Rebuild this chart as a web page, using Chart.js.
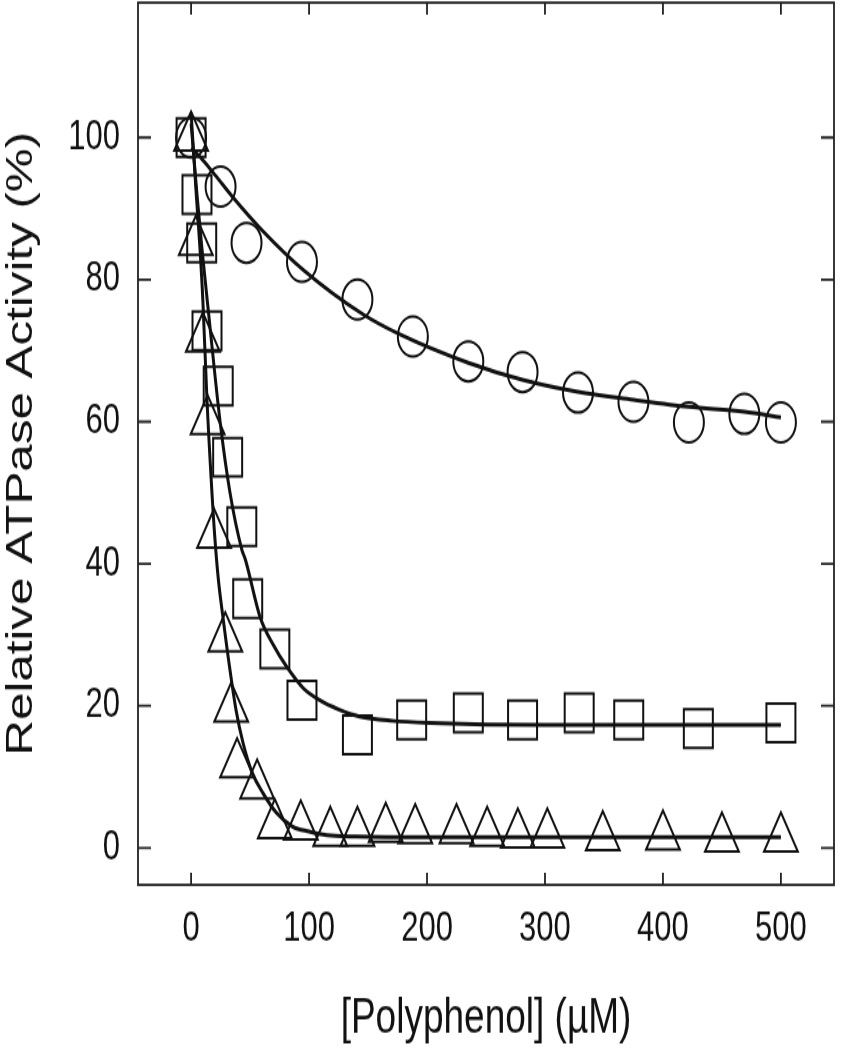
<!DOCTYPE html>
<html lang="en">
<head>
    <meta charset="UTF-8">
    <title>Relative ATPase Activity</title>
    <script src="https://cdn.jsdelivr.net/npm/chart.js"></script>
    <style>
        body {
            margin: 0;
            background: #fff;
        }
        .wrap {
            width: 841px;
            height: 1050px;
            overflow: hidden;
        }
        /* the original figure is stretched vertically, so draw flat and stretch */
        #chart {
            display: block;
            transform: scaleY(1.3325);
            transform-origin: 0 0;
        }
    </style>
</head>
<body>
    <div class="wrap">
        <canvas id="chart" width="841" height="788" style="width:841px;height:788px"></canvas>
    </div>

    <script>
        // Tick labels
        const xTicks = [0, 100, 200, 300, 400, 500];
        const yTicks = [0, 20, 40, 60, 80, 100];

        // Circles
        const circleX = [0, 25, 47, 94, 141, 188, 235, 281, 328, 375, 422, 469, 500];
        const circleY = [100, 93.1, 85.2, 82.5, 77.2, 72.0, 68.5, 67.0, 64.1, 62.8, 59.9, 61.1, 59.9];

        // Squares
        const squareX = [0, 5, 9, 13.5, 23, 31, 43, 48, 71, 94, 141, 187, 235, 281, 329, 371, 430, 500];
        const squareY = [100, 92.0, 85.2, 72.8, 65.0, 55.0, 45.2, 35.1, 28.0, 20.8, 15.9, 18.0, 19.0, 18.0, 19.0, 18.0, 16.8, 17.6];

        // Triangles
        const triX = [0, 4, 10, 14, 19.5, 29, 34, 39, 56, 71, 93, 118, 141, 165, 190, 225, 251, 277, 302, 349, 400, 450, 500];
        const triY = [100, 85.3, 71.7, 60.1, 44.1, 29.5, 19.6, 11.8, 8.8, 3.2, 3.0, 2.1, 2.1, 2.7, 2.5, 2.5, 2.1, 1.9, 1.9, 1.5, 1.6, 1.3, 1.3];

        // Fitted curves
        const circleFitX = [0, 8, 20, 36, 60, 95, 146, 177, 235, 281, 328, 375, 422, 469, 500];
        const circleFitY = [98.5, 97.2, 94.8, 91.5, 87.0, 81.4, 75.1, 72.3, 68.3, 65.9, 64.2, 63.1, 62.1, 61.4, 60.6];

        const squareFitX = [0, 5, 9.3, 15, 24.6, 33, 43, 46, 58.5, 70, 81, 95, 109, 125, 143, 170, 202, 300, 400, 500];
        const squareFitY = [102, 92, 84.2, 75, 60, 50, 42, 40.6, 32.5, 28.5, 25.5, 22.5, 20.8, 19.5, 18.5, 17.9, 17.6, 17.3, 17.3, 17.3];

        const triFitX = [0, 4, 7.6, 10, 13.5, 17, 20, 23, 27, 33, 38, 44, 52, 61, 72, 86, 100, 115, 140, 200, 300, 400, 500];
        const triFitY = [103.5, 93, 84.2, 77, 63, 52, 44, 38, 32.5, 25, 19.5, 14.8, 10.5, 7.7, 5.0, 3.0, 2.3, 1.8, 1.6, 1.5, 1.5, 1.5, 1.5];

        const pts = (xs, ys) => xs.map((x, i) => ({ x: x, y: ys[i] }));

        function markers(label, xs, ys, style, radius) {
            return {
                type: 'scatter',
                label: label,
                data: pts(xs, ys),
                pointStyle: style,
                pointRadius: radius,
                borderColor: '#111',
                backgroundColor: 'rgba(0,0,0,0)',
                pointBorderWidth: 2,
                borderWidth: 2
            };
        }

        function fit(label, xs, ys) {
            return {
                type: 'line',
                label: label,
                data: pts(xs, ys),
                borderColor: '#111',
                borderWidth: 3,
                pointRadius: 0,
                cubicInterpolationMode: 'monotone',
                fill: false
            };
        }

        // drop the label overhang padding so the plot box sits where the figure has it
        function noPad(s) {
            s.paddingTop = 0;
            s.paddingBottom = 0;
            s.paddingLeft = 0;
            s.paddingRight = 0;
        }

        // frame and inward ticks on all four sides
        const framePlugin = {
            id: 'frame',
            afterDraw(chart) {
                const { ctx, chartArea: a, scales } = chart;
                ctx.save();
                ctx.strokeStyle = '#222';
                ctx.lineWidth = 1.8;
                ctx.strokeRect(a.left, a.top, a.right - a.left, a.bottom - a.top);
                ctx.beginPath();
                xTicks.forEach(v => {
                    const px = scales.x.getPixelForValue(v);
                    ctx.moveTo(px, a.bottom);
                    ctx.lineTo(px, a.bottom - 9);
                    ctx.moveTo(px, a.top);
                    ctx.lineTo(px, a.top + 9);
                });
                yTicks.forEach(v => {
                    const py = scales.y.getPixelForValue(v);
                    ctx.moveTo(a.left, py);
                    ctx.lineTo(a.left + 13, py);
                    ctx.moveTo(a.right, py);
                    ctx.lineTo(a.right - 13, py);
                });
                ctx.stroke();
                ctx.restore();
            }
        };

        const tickFont = { family: 'Liberation Sans, Arial, sans-serif', size: 31 };
        const titleFont = { family: 'Liberation Sans, Arial, sans-serif', size: 37 };

        new Chart(document.getElementById('chart'), {
            data: {
                datasets: [
                    fit('circle fit', circleFitX, circleFitY),
                    fit('square fit', squareFitX, squareFitY),
                    fit('triangle fit', triFitX, triFitY),
                    markers('circles', circleX, circleY, 'circle', 15),
                    markers('squares', squareX, squareY, 'rect', 20.5),
                    markers('triangles', triX, triY, 'triangle', 19.5)
                ]
            },
            options: {
                responsive: false,
                devicePixelRatio: 1,
                animation: false,
                layout: { autoPadding: false, padding: { top: 2, right: 7, left: 0, bottom: 0 } },
                plugins: {
                    legend: { display: false },
                    tooltip: { enabled: false }
                },
                scales: {
                    x: {
                        type: 'linear',
                        min: -45,
                        max: 545,
                        grid: { display: false, drawTicks: false },
                        border: { display: false },
                        afterBuildTicks: s => { s.ticks = xTicks.map(v => ({ value: v })); },
                        afterFit: s => { s.height = 124; noPad(s); },
                        ticks: { color: '#111', font: tickFont, padding: 15, autoSkip: false, maxRotation: 0 },
                        title: {
                            display: true,
                            text: '[Polyphenol] (\u00B5M)',
                            color: '#111',
                            font: titleFont,
                            padding: { top: 0, bottom: 1 }
                        }
                    },
                    y: {
                        type: 'linear',
                        min: -5.2,
                        max: 119,
                        grid: { display: false, drawTicks: false },
                        border: { display: false },
                        afterBuildTicks: s => { s.ticks = yTicks.map(v => ({ value: v })); },
                        afterFit: s => { s.width = 138; noPad(s); },
                        ticks: { color: '#111', font: tickFont, padding: 18, autoSkip: false },
                        title: {
                            display: true,
                            text: 'Relative ATPase Activity (%)',
                            color: '#111',
                            font: titleFont,
                            padding: { top: 0, bottom: 0 }
                        }
                    }
                }
            },
            plugins: [framePlugin]
        });
    </script>
</body>
</html>
